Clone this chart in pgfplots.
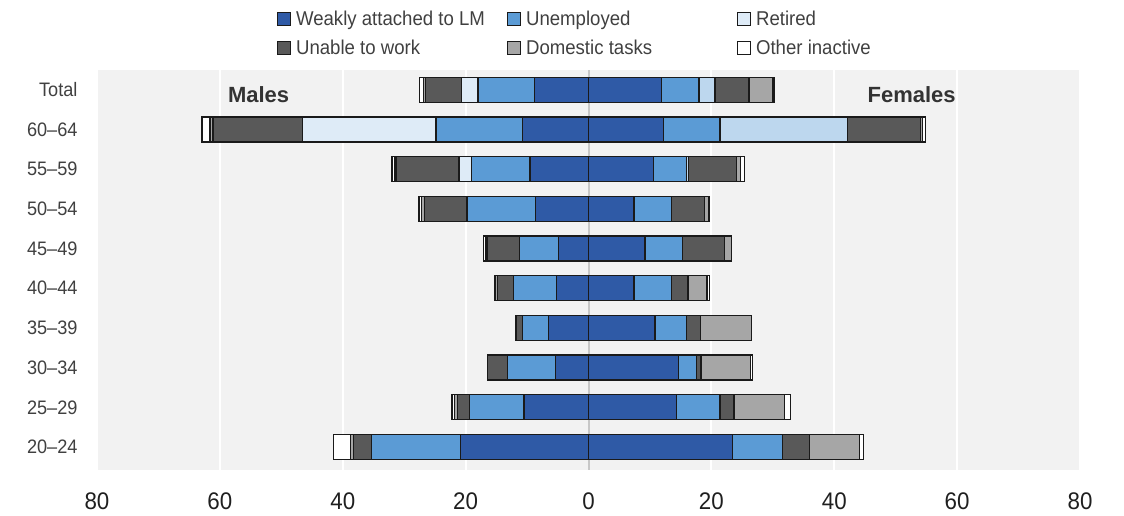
\documentclass[border=0pt]{standalone}
\usepackage{pgfplots}
\usepackage{pgfplotstable}
\pgfplotsset{compat=1.18}
\usepackage{fontspec}
\setmainfont{Liberation Sans}
\newfontfamily\narrowfont{Liberation Sans}[FakeStretch=0.93]

\definecolor{weak}{HTML}{2F5AA6}
\definecolor{unemp}{HTML}{5B9BD5}
\definecolor{retm}{HTML}{DEEBF7}
\definecolor{retf}{HTML}{BDD7EE}
\definecolor{unable}{HTML}{595959}
\definecolor{domes}{HTML}{A6A6A6}
\definecolor{bgc}{HTML}{F2F2F2}
\definecolor{edge}{HTML}{1A1A1A}
\definecolor{txt}{HTML}{404040}

% males: negative, stacked outwards from 0
\pgfplotstableread{
row weak  unemp ret   unable domes other
0   -20.8 -14.5 0     -2.9   -0.5  -2.8
1   -10.5 -8.9  0     -1.9   -0.5  -0.4
2   -5.4  -7.8  0     -3.2   0     0
3   -6.5  -4.3  0     -0.9   -0.1  -0.1
4   -5.2  -7.0  0     -2.6   -0.3  -0.2
5   -4.9  -6.3  0     -5.3   -0.3  -0.3
6   -8.6  -11.2 0     -6.9   -0.5  -0.4
7   -9.5  -9.6  -2.0  -10.2  -0.2  -0.5
8   -10.8 -14.0 -21.8 -14.5  -0.5  -1.3
9   -8.8  -9.2  -2.7  -5.8   -0.4  -0.6
}\males

\pgfplotstableread{
row weak unemp ret  unable domes other
0   23.4 8.2   0    4.4    8.1   0.6
1   14.3 7.1   0    2.3    8.2   1.0
2   14.6 3.0   0    0.7    8.1   0.3
3   10.8 5.1   0    2.3    8.3   0
4   7.4  6.1   0    2.7    3.1   0.4
5   9.2  6.1   0    6.8    1.2   0
6   7.4  6.1   0    5.4    0.7   0
7   10.6 5.4   0.3  7.8    0.6   0.7
8   12.2 9.2   20.7 11.9   0.4   0.4
9   11.9 6.1   2.6  5.5    3.8   0.3
}\females

\pgfplotsset{
  pyr/.style={
    at={(97pt,46pt)}, anchor=south west, scale only axis,
    width=983pt, height=400pt,
    xmin=-80, xmax=80, ymin=-0.58, ymax=9.5,
    xbar stacked, bar width=25pt,
  },
  seg/.style={fill=#1, draw=edge, line width=1.3pt},
}
\newcommand{\lentry}[1]{\makebox[212pt][l]{\hspace{3pt}#1}}

\begin{document}
\begin{tikzpicture}
\useasboundingbox (0,0) rectangle (1124pt,516pt);

\begin{axis}[pyr,
  axis background/.style={fill=bgc},
  axis line style={draw=none},
  tick style={draw=none},
  xmajorgrids, ymajorgrids=false,
  major grid style={white, line width=2pt},
  xtick={-80,-60,...,80},
  xticklabels={80,60,40,20,0,20,40,60,80},
  xticklabel style={font=\narrowfont\fontsize{24}{24}\selectfont, text=black!88, yshift=-19pt},
  ytick={0,...,9},
  yticklabels={20–24,25–29,30–34,35–39,40–44,45–49,50–54,55–59,60–64,Total},
  yticklabel style={font=\narrowfont\fontsize{19.5}{19.5}\selectfont, text=txt, xshift=-16pt},
  legend columns=3,
  legend cell align=left,
  legend style={draw=none, fill=none, at={(rel axis cs:0.183,1.152)}, anchor=north west,
    inner sep=0pt, row sep=9pt, column sep=0pt,
    font=\narrowfont\fontsize{20}{20}\selectfont, text=txt},
  legend image code/.code={\draw[#1, draw=edge, line width=1pt] (0pt,-6.5pt) rectangle (13pt,6.5pt);},
]
\addplot[seg=weak]   table[x=weak,   y=row] {\males};
\addlegendentry{\lentry{Weakly attached to LM}}
\addplot[seg=unemp]  table[x=unemp,  y=row] {\males};
\addlegendentry{\lentry{Unemployed}}
\addplot[seg=retm]   table[x=ret,    y=row] {\males};
\addlegendentry{\lentry{Retired}}
\addplot[seg=unable] table[x=unable, y=row] {\males};
\addlegendentry{\lentry{Unable to work}}
\addplot[seg=domes]  table[x=domes,  y=row] {\males};
\addlegendentry{\lentry{Domestic tasks}}
\addplot[seg=white]  table[x=other,  y=row] {\males};
\addlegendentry{\lentry{Other inactive}}

\node[font=\bfseries\fontsize{22}{22}\selectfont, text=black!80] at (axis cs:-53.7,8.87) {Males};
\node[font=\bfseries\fontsize{22}{22}\selectfont, text=black!80] at (axis cs:52.6,8.87) {Females};
\end{axis}

\begin{axis}[pyr, hide axis]
\addplot[seg=weak]   table[x=weak,   y=row] {\females};
\addplot[seg=unemp]  table[x=unemp,  y=row] {\females};
\addplot[seg=retf]   table[x=ret,    y=row] {\females};
\addplot[seg=unable] table[x=unable, y=row] {\females};
\addplot[seg=domes]  table[x=domes,  y=row] {\females};
\addplot[seg=white]  table[x=other,  y=row] {\females};
\draw[black!22, line width=2pt] (axis cs:0,-0.58) -- (axis cs:0,9.5);
\end{axis}
\end{tikzpicture}
\end{document}
